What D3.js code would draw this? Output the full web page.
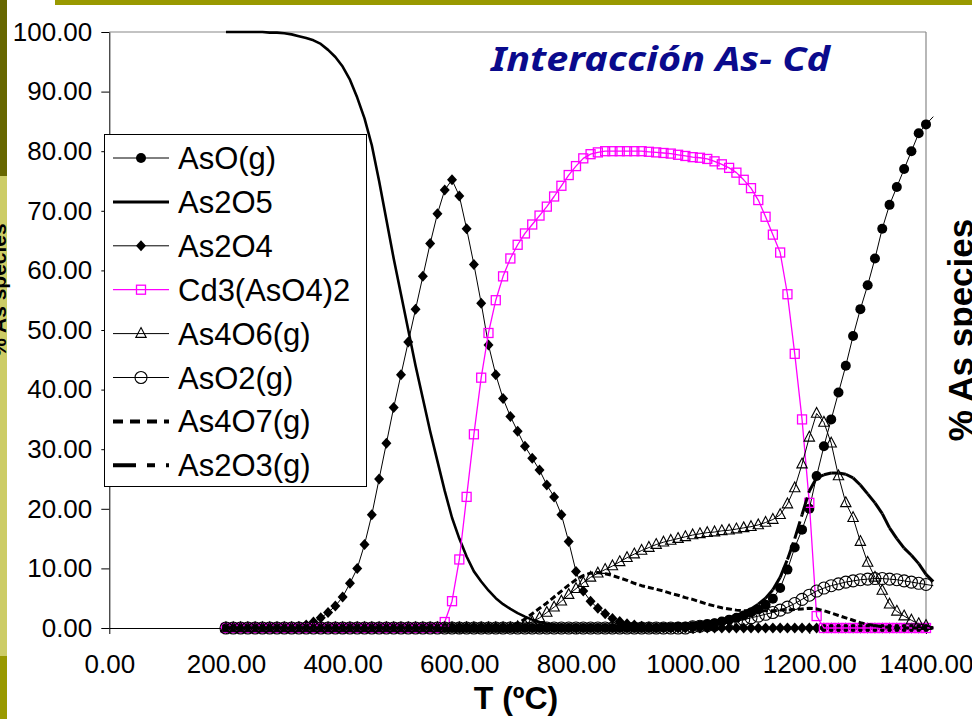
<!DOCTYPE html>
<html><head><meta charset="utf-8">
<script src="https://cdn.jsdelivr.net/npm/d3@7/dist/d3.min.js"></script>
<style>html,body{margin:0;padding:0;background:#fff;overflow:hidden}</style>
</head><body>
<svg id="c" width="972" height="719" xmlns="http://www.w3.org/2000/svg"></svg>
<script>
// ---------------- DATA ----------------
const T = [200,212.5,225,237.5,250,262.5,275,287.5,300,312.5,325,337.5,350,362.5,375,387.5,400,412.5,425,437.5,
450,462.5,475,487.5,500,512.5,525,537.5,550,562.5,575,587.5,600,612.5,625,637.5,650,662.5,675,687.5,
700,712.5,725,737.5,750,762.5,775,787.5,800,812.5,825,837.5,850,862.5,875,887.5,900,912.5,925,937.5,
950,962.5,975,987.5,1000,1012.5,1025,1037.5,1050,1062.5,1075,1087.5,1100,1112.5,1125,1137.5,1150,1162.5,1175,1187.5,
1200,1212.5,1225,1237.5,1250,1262.5,1275,1287.5,1300,1312.5,1325,1337.5,1350,1362.5,1375,1387.5,1400,1412.5];

const AsO = [0,0,0,0,0,0,0,0,0,0, 0,0,0,0,0,0,0,0,0,0, 0,0,0,0,0,0,0,0,0,0, 0,0,0,0,0,0,0,0,0,0,
0,0,0,0,0,0,0,0,0,0, 0,0,0,0,0,0,0,0,0,0,
0.1,0.1,0.2,0.2,0.3,0.4,0.6,0.8,1.1,1.4,1.7,2.1,2.6,3.1,3.9,4.9,6.7,9.8,13.5,16.5,
20.0,25.5,30.5,35.0,39.5,44.0,49.0,53.5,57.5,62.0,67.0,71.0,74.0,77.0,80.0,83.0,84.5,85.8];

const As2O5 = [100,100,100,100,100,100,99.9,99.9,99.8,99.6,99.3,99.0,98.6,98.0,97.0,95.8,94.2,92.0,89.0,85.5,
81.0,75.0,68.5,62.0,56.0,50.0,44.0,38.5,33.0,28.0,23.0,18.5,15.0,12.0,9.5,7.8,6.3,5.0,4.0,3.2,
2.5,1.9,1.4,1.0,0.7,0.5,0.3,0.2,0.1,0, 0,0,0,0,0,0,0,0,0,0,
0,0,0,0,0,0,0,0,0,0, 0,0,0,0,0,0,0,0,0,0, 0,0,0,0,0,0,0,0,0,0, 0,0,0,0,0,0,0,0];

const As2O4 = [0,0,0,0,0,0,0,0,0,0,0.2,0.5,1.0,1.7,2.6,3.7,5.2,7.5,10.0,14.0,
19.0,25.0,31.0,37.0,42.5,48.0,53.5,59.0,64.5,69.5,73.5,75.2,72.5,67.0,61.0,54.5,47.5,42.5,38.5,35.5,
33.0,30.5,28.5,26.5,24.0,22.0,19.0,14.5,9.5,6.2,4.5,3.3,2.4,1.6,1.1,0.7,0.5,0.3,0.2,0.1,
0,0,0,0,0,0,0,0,0,0, 0,0,0,0,0,0,0,0,0,0, 0,0,0,0,0,0,0,0,0,0, 0,0,0,0,0,0,0,0];

const Cd3AsO42 = [0,0,0,0,0,0,0,0,0,0, 0,0,0,0,0,0,0,0,0,0, 0,0,0,0,0,0,0,0,0,0,
1.0,4.5,11.5,22.0,32.5,42.0,49.5,55.0,59.0,62.0,
64.3,66.2,67.7,69.2,70.7,72.4,74.2,76.0,77.5,78.8,79.5,79.8,80.0,80.0,80.0,80.0,80.0,80.0,79.9,79.8,
79.7,79.6,79.4,79.2,79.0,78.9,78.7,78.3,77.8,77.2,76.4,75.2,73.8,71.8,69.0,66.0,63.0,56.0,46.0,35.0,
21.0,2.0,0,0,0,0,0,0,0,0, 0,0,0,0,0,0,0,0];

const As4O6 = [0,0,0,0,0,0,0,0,0,0, 0,0,0,0,0,0,0,0,0,0, 0,0,0,0,0,0,0,0,0,0, 0,0,0,0,0,0,0,0,0,0,
0.2,0.5,1.0,1.7,2.6,3.5,4.5,5.6,6.6,7.6,8.5,9.2,9.8,10.4,11.1,11.8,12.4,13.0,13.5,14.0,
14.4,14.7,15.0,15.3,15.6,15.8,16.0,16.1,16.3,16.4,16.6,16.8,17.0,17.3,17.7,18.2,19.0,20.8,23.5,27.5,
32.0,36.0,34.5,31.0,25.5,21.0,18.5,14.5,11.0,8.5,6.3,4.0,2.8,2.0,1.3,0.7,0.4,0.2];

const AsO2 = [0,0,0,0,0,0,0,0,0,0, 0,0,0,0,0,0,0,0,0,0, 0,0,0,0,0,0,0,0,0,0, 0,0,0,0,0,0,0,0,0,0,
0,0,0,0,0,0,0,0,0,0, 0,0,0,0,0,0,0,0,0,0, 0,0,0,0,
0.2,0.3,0.4,0.5,0.7,0.9,1.1,1.4,1.7,2.0,2.3,2.6,3.0,3.5,4.1,4.8,
5.5,6.2,6.7,7.1,7.4,7.7,7.9,8.1,8.2,8.3,8.3,8.2,8.1,7.9,7.7,7.5,7.3,7.1];

const As4O7 = [0,0,0,0,0,0,0,0,0,0, 0,0,0,0,0,0,0,0,0,0, 0,0,0,0,0,0,0,0,0,0, 0,0,0,0,0,0,0,0,0,
0.3,0.8,1.5,2.4,3.3,4.2,5.2,6.2,7.2,8.1,8.8,9.2,9.3,9.1,8.8,8.4,8.0,7.5,7.1,6.8,6.5,
6.2,5.8,5.5,5.1,4.8,4.4,4.0,3.7,3.4,3.2,3.0,2.9,2.9,2.9,2.9,2.9,3.0,3.0,3.1,3.2,
3.3,3.2,2.9,2.5,2.1,1.7,1.3,0.9,0.6,0.4,0.2,0.1,0,0,0,0,0,0];

const As2O3 = [0,0,0,0,0,0,0,0,0,0, 0,0,0,0,0,0,0,0,0,0, 0,0,0,0,0,0,0,0,0,0, 0,0,0,0,0,0,0,0,0,0,
0,0,0,0,0,0,0,0,0,0, 0,0,0,0,0,0,
0.1,0.1,0.1,0.2,0.2,0.3,0.4,0.5,0.6,0.7,0.9,1.1,1.4,1.7,2.1,2.6,3.2,4.0,5.0,6.4,8.5,11.5,15.0,19.0,
23.0,25.2,25.7,26.0,26.0,25.8,25.2,24.0,22.5,21.0,19.2,16.8,15.0,13.4,12.2,10.8,9.0,7.8];

const seriesNames = ["AsO(g)","As2O5","As2O4","Cd3(AsO4)2","As4O6(g)","AsO2(g)","As4O7(g)","As2O3(g)"];
const seriesValues = [AsO, As2O5, As2O4, Cd3AsO42, As4O6, AsO2, As4O7, As2O3];
const xTicks = [0,200,400,600,800,1000,1200,1400];
const yTicks = [0,10,20,30,40,50,60,70,80,90,100];
const titleText = "Interacción As- Cd";
const xTitle = "T (ºC)";
const yTitle = "% As species";

// ---------------- STYLE ----------------
const styles = [
  {color:"#000", width:1, marker:"dot"},
  {color:"#000", width:2.6, marker:null},
  {color:"#000", width:1, marker:"diamond"},
  {color:"#ff00ff", width:1.3, marker:"square"},
  {color:"#000", width:1, marker:"triangle"},
  {color:"#000", width:1, marker:"circle"},
  {color:"#000", width:3, marker:null, dash:"6,3"},
  {color:"#000", width:3, marker:null, dash:"18,5,6,5", perSegment:true}
];

const svg = d3.select("#c");
const W = 972, H = 719;
const x = d3.scaleLinear().domain([0,1400]).range([109.3,926]);
const y = d3.scaleLinear().domain([0,100]).range([628,32]);

// slide decoration
svg.append("rect").attr("x",55).attr("y",0).attr("width",W-55).attr("height",5).attr("fill","#999900");
svg.append("rect").attr("x",0).attr("y",0).attr("width",7).attr("height",176).attr("fill","#666600");
svg.append("rect").attr("x",0).attr("y",176).attr("width",7).attr("height",480).attr("fill","#cccc66");
svg.append("rect").attr("x",0).attr("y",656).attr("width",7).attr("height",H-656).attr("fill","#999900");

// plot border (top/right)
svg.append("line").attr("x1",109.3).attr("x2",926).attr("y1",32).attr("y2",32).attr("stroke","#888").attr("stroke-width",1.2);
svg.append("line").attr("x1",926).attr("x2",926).attr("y1",32).attr("y2",628).attr("stroke","#888").attr("stroke-width",1.2);

// axes
const fmt = d3.format(".2f");
const gy = svg.append("g").attr("transform","translate(109.3,0)")
  .call(d3.axisLeft(y).tickValues(yTicks).tickFormat(fmt).tickSize(8).tickSizeOuter(0).tickPadding(9));
const gx = svg.append("g").attr("transform","translate(0,628)")
  .call(d3.axisBottom(x).tickValues(xTicks).tickFormat(fmt).tickSize(6).tickSizeOuter(0).tickPadding(21));
[gy,gx].forEach(g=>{
  g.selectAll("text").attr("font-family","'Liberation Sans', Arial, sans-serif").attr("font-size",26).attr("fill","#000");
  g.selectAll("line").attr("stroke","#000");
  g.select(".domain").attr("stroke","#000");
});

// titles
svg.append("text").attr("x",491).attr("y",71).text(titleText)
  .attr("font-family","'Noto Sans', 'DejaVu Sans', sans-serif").attr("font-weight","bold").attr("font-style","italic")
  .attr("font-size",34).attr("fill","#0a0a8c").attr("textLength",339).attr("lengthAdjust","spacingAndGlyphs");
svg.append("text").attr("x",516).attr("y",709).attr("text-anchor","middle").text(xTitle)
  .attr("font-family","'Liberation Sans', Arial, sans-serif").attr("font-weight","bold").attr("font-size",32).attr("fill","#000");
svg.append("text").attr("transform","translate(973,330) rotate(-90)").attr("text-anchor","middle").text(yTitle)
  .attr("font-family","'Liberation Sans', Arial, sans-serif").attr("font-weight","bold").attr("font-size",35).attr("fill","#000");
svg.append("text").attr("transform","translate(6,290) rotate(-90)").attr("text-anchor","middle").text(yTitle)
  .attr("font-family","'Liberation Sans', Arial, sans-serif").attr("font-weight","bold").attr("font-size",21).attr("fill","#000");

// markers
function drawMarker(g, kind, cx, cy, color){
  if(kind==="dot") g.append("circle").attr("cx",cx).attr("cy",cy).attr("r",5).attr("fill","#000");
  else if(kind==="circle") g.append("circle").attr("cx",cx).attr("cy",cy).attr("r",6).attr("fill","none").attr("stroke","#000").attr("stroke-width",1.1);
  else if(kind==="diamond") g.append("path").attr("d",`M${cx},${cy-5.5}L${cx+5},${cy}L${cx},${cy+5.5}L${cx-5},${cy}Z`).attr("fill","#000");
  else if(kind==="square") g.append("rect").attr("x",cx-4.5).attr("y",cy-4.5).attr("width",9).attr("height",9).attr("fill","none").attr("stroke",color).attr("stroke-width",1.3);
  else if(kind==="triangle") g.append("path").attr("d",`M${cx},${cy-6}L${cx+5.2},${cy+3.8}L${cx-5.2},${cy+3.8}Z`).attr("fill","none").attr("stroke","#000").attr("stroke-width",1.1);
}

const plot = svg.append("g");
const line = d3.line().x(d=>x(d[0])).y(d=>y(d[1]));
seriesValues.forEach((vals,si)=>{
  const st = styles[si];
  const pts = T.map((t,i)=>[t, vals[i]]);
  const g = plot.append("g");
  if(st.perSegment){
    for(let i=0;i<pts.length-1;i++){
      g.append("line").attr("x1",x(pts[i][0])).attr("y1",y(pts[i][1])).attr("x2",x(pts[i+1][0])).attr("y2",y(pts[i+1][1]))
        .attr("stroke",st.color).attr("stroke-width",st.width).attr("stroke-dasharray",st.dash);
    }
  } else {
    g.append("path").attr("d",line(pts)).attr("fill","none").attr("stroke",st.color).attr("stroke-width",st.width)
      .attr("stroke-dasharray",st.dash||null).attr("stroke-linejoin","round");
  }
  if(st.marker){
    pts.forEach(p=>{ if(p[0]<=1400) drawMarker(g, st.marker, x(p[0]), y(p[1]), st.color); });
  }
});

// legend
const lg = svg.append("g");
lg.append("rect").attr("x",104.5).attr("y",134.5).attr("width",262).attr("height",352).attr("fill","#fff").attr("stroke","#000").attr("stroke-width",1);
seriesNames.forEach((name,i)=>{
  const cy = 158 + 43.9*i;
  const st = styles[i];
  if(i===6){
    lg.append("line").attr("x1",113).attr("x2",169).attr("y1",cy).attr("y2",cy).attr("stroke","#000").attr("stroke-width",4).attr("stroke-dasharray","10,7");
  } else if(i===7){
    lg.append("line").attr("x1",113).attr("x2",169).attr("y1",cy).attr("y2",cy).attr("stroke","#000").attr("stroke-width",4).attr("stroke-dasharray","23,11,8,11");
  } else {
    lg.append("line").attr("x1",113).attr("x2",169).attr("y1",cy).attr("y2",cy).attr("stroke",st.color).attr("stroke-width",i===1?3:st.width);
    if(st.marker) drawMarker(lg, st.marker, 141, cy, st.color);
  }
  lg.append("text").attr("x",178).attr("y",cy+11).text(name)
    .attr("font-family","'Liberation Sans', Arial, sans-serif").attr("font-size",31).attr("fill","#000");
});
</script>
</body></html>
